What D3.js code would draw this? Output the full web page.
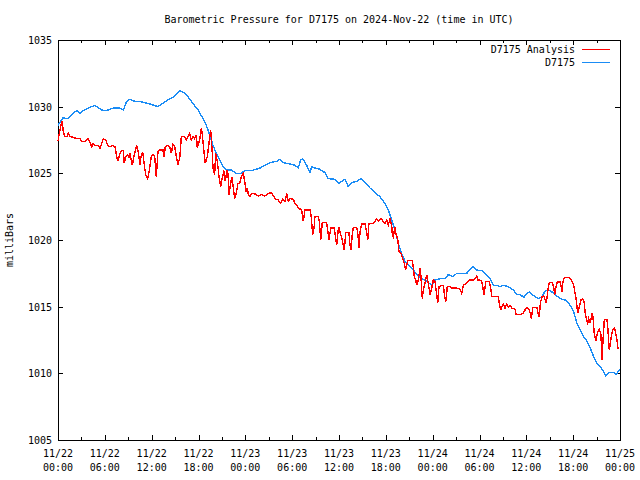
<!DOCTYPE html>
<html><head><meta charset="utf-8">
<script src="https://cdn.jsdelivr.net/npm/d3@7"></script>
<style>
body{margin:0;background:#fff;}
svg text{font-family:"DejaVu Sans Mono","Liberation Mono",monospace;font-size:10px;fill:#000;}
</style></head>
<body><svg id="c" width="640" height="480"></svg>
<script>
// ---- data (hours since 2024-11-22 00:00 UTC, millibars) ----
const title = "Barometric Pressure for D7175 on 2024-Nov-22 (time in UTC)";
const yLabel = "milliBars";
const seriesNames = ["D7175 Analysis", "D7175"];
const yTicks = [1005, 1010, 1015, 1020, 1025, 1030, 1035];

const stationHours = [0,0.64,1.32,1.96,2.40,2.82,3.24,3.88,4.74,5.16,5.80,6.44,7.08,7.94,8.37,8.80,9.22,9.86,10.29,11.15,11.79,12.81,13.45,14.09,14.73,15.59,16.01,16.65,17.29,17.94,18.58,19.00,19.43,19.86,20.28,20.72,21.14,21.56,22.20,22.84,23.48,23.92,24.81,25.88,26.52,27.16,28.02,28.35,28.86,29.72,30.36,30.78,31.09,31.35,31.86,32.28,32.50,32.92,33.56,34.21,34.63,35.49,36.04,36.35,36.77,37.19,37.63,38.27,38.82,39.33,39.97,40.61,41.25,41.89,42.32,42.75,43.17,43.60,44.03,44.45,45.10,45.52,45.95,46.59,47.23,47.88,48.30,48.94,49.58,50.00,50.64,51.08,52.36,52.78,53.13,53.64,54.28,54.70,55.34,55.77,56.20,56.63,57.05,57.69,58.33,58.76,59.19,59.70,60.05,60.38,60.72,61.15,61.58,62.01,62.43,62.86,63.29,63.71,64.35,64.99,65.63,66.07,66.49,66.91,67.35,67.77,68.19,68.63,69.05,69.47,69.91,70.20,70.55,71.19,71.49,72.00];
const stationValues = [1028.6,1029.15,1029.1,1029.5,1029.7,1029.5,1029.7,1029.9,1030.1,1029.9,1029.7,1029.75,1029.9,1029.9,1029.75,1030.4,1030.55,1030.4,1030.4,1030.3,1030.2,1030.0,1030.25,1030.5,1030.7,1031.2,1031.1,1030.75,1030.25,1029.75,1029.1,1028.6,1027.9,1027.1,1026.5,1026.0,1025.5,1025.25,1025.25,1025.0,1025.0,1025.2,1025.2,1025.4,1025.6,1025.8,1025.9,1026.05,1025.8,1025.7,1025.6,1025.4,1026.0,1026.1,1025.6,1025.05,1025.5,1025.4,1025.3,1025.05,1024.6,1024.55,1024.25,1024.4,1024.55,1024.0,1024.3,1024.4,1024.6,1024.3,1023.9,1023.55,1023.25,1022.75,1022.25,1021.5,1020.75,1019.75,1019.0,1018.4,1018.0,1017.75,1017.4,1017.1,1016.9,1016.6,1017.0,1017.1,1017.1,1017.4,1017.25,1017.5,1017.5,1017.75,1018.0,1017.75,1017.7,1017.5,1017.1,1016.6,1016.6,1016.5,1016.6,1016.5,1016.25,1015.9,1015.9,1015.7,1016.0,1016.1,1015.9,1015.75,1015.6,1015.75,1016.2,1016.25,1016.1,1015.9,1015.6,1015.5,1015.1,1014.6,1013.75,1013.25,1012.75,1012.4,1011.9,1011.25,1010.75,1010.5,1010.1,1009.8,1010.05,1010.05,1009.9,1010.3];

const analysisHours = [0,0.13,0.38,0.55,0.68,0.90,1.15,1.32,1.54,1.96,2.40,2.82,3.04,3.46,3.88,4.10,4.32,4.52,4.74,5.16,5.38,5.60,5.80,6.11,6.37,6.66,6.96,7.30,7.52,7.65,7.94,8.16,8.37,8.49,8.67,8.93,9.10,9.22,9.52,9.77,10.08,10.29,10.51,10.63,10.85,11.06,11.24,11.49,11.66,11.79,11.95,12.17,12.39,12.59,12.81,13.03,13.45,13.58,13.75,14.00,14.31,14.52,14.73,14.95,15.16,15.37,15.59,15.72,15.80,16.23,16.44,16.65,16.87,17.08,17.29,17.51,17.72,17.85,18.15,18.36,18.49,18.70,18.87,19.13,19.34,19.56,19.73,19.86,20.07,20.20,20.41,20.63,20.84,21.01,21.27,21.43,21.65,21.78,21.91,22.12,22.29,22.46,22.64,22.84,23.06,23.28,23.48,23.74,23.96,24.08,24.25,24.38,24.60,24.81,25.24,25.66,26.10,26.52,26.94,27.38,27.80,28.22,28.53,28.79,29.08,29.30,29.50,29.72,30.14,30.36,30.58,30.78,31.22,31.43,31.64,32.28,32.41,32.63,32.80,32.92,33.35,33.48,33.66,33.86,34.42,34.55,34.72,34.94,35.36,35.49,35.70,35.91,36.00,36.42,36.68,36.86,37.28,37.41,37.54,37.70,37.83,38.27,38.40,38.56,38.69,38.91,39.33,39.55,39.68,39.84,40.39,40.61,40.83,41.03,41.38,41.67,41.89,42.11,42.32,42.53,42.75,42.83,42.96,43.17,43.30,43.52,43.69,43.94,44.16,44.36,44.54,44.67,44.80,45.39,45.52,45.65,45.83,45.95,46.16,46.38,46.50,46.67,46.80,47.02,47.23,47.44,47.66,47.88,48.08,48.30,48.52,48.64,48.81,49.16,49.36,49.58,49.71,49.87,50.22,50.44,51.08,51.50,51.72,51.92,52.27,52.56,52.78,53.20,53.42,53.64,53.77,54.06,54.28,54.41,54.58,54.83,55.26,55.44,55.56,56.41,56.54,56.72,56.84,57.05,57.27,57.48,57.69,57.91,58.12,58.55,58.68,59.19,59.61,59.83,60.08,60.30,60.51,60.64,60.82,61.07,61.37,61.49,61.66,61.79,62.01,62.22,62.43,62.56,62.77,62.94,63.29,63.50,63.63,63.80,63.97,64.35,64.57,64.70,64.87,65.43,65.63,65.85,66.07,66.27,66.40,66.58,66.79,67.00,67.22,67.39,67.55,67.68,67.86,67.99,68.19,68.41,68.54,68.71,68.93,69.14,69.35,69.56,69.69,69.82,69.99,70.33,70.46,70.63,70.89,71.06,71.32,71.49,71.62,71.75];
const analysisValues = [1027.4,1027.9,1028.6,1028.9,1028.1,1027.75,1027.75,1028.0,1027.75,1027.7,1027.6,1027.6,1027.4,1027.4,1027.6,1027.3,1027.0,1027.25,1027.1,1027.1,1026.9,1027.25,1027.6,1027.5,1027.1,1027.0,1027.1,1027.0,1026.25,1025.9,1026.5,1026.7,1026.7,1025.75,1026.25,1026.4,1026.2,1026.5,1025.6,1026.4,1027.1,1026.6,1025.6,1026.25,1026.6,1025.6,1024.9,1024.6,1025.1,1025.6,1026.25,1026.4,1026.25,1024.75,1026.6,1026.75,1026.75,1026.25,1027.0,1027.1,1027.0,1026.5,1027.2,1027.0,1026.25,1025.7,1026.1,1027.1,1027.75,1027.75,1027.5,1027.75,1028.0,1027.5,1027.75,1027.6,1027.9,1026.9,1027.5,1028.4,1027.9,1026.6,1025.75,1026.25,1027.25,1028.25,1026.9,1025.4,1024.9,1026.5,1025.9,1024.75,1024.0,1024.6,1025.2,1024.4,1025.25,1025.0,1023.4,1024.25,1024.75,1023.9,1023.1,1023.5,1024.25,1024.25,1024.75,1025.0,1024.25,1023.6,1023.9,1023.4,1023.25,1023.5,1023.45,1023.3,1023.4,1023.3,1023.5,1023.55,1023.1,1023.0,1022.75,1023.05,1022.9,1023.5,1022.9,1023.1,1023.05,1022.75,1022.6,1022.4,1022.25,1021.4,1022.25,1022.25,1021.9,1020.4,1020.9,1021.75,1021.75,1021.4,1020.0,1021.3,1021.3,1020.75,1020.0,1020.9,1020.9,1020.5,1019.6,1020.8,1020.9,1020.0,1019.25,1020.55,1020.55,1019.6,1019.25,1020.4,1020.95,1020.95,1020.55,1019.4,1020.6,1021.2,1021.2,1020.6,1020.0,1021.25,1021.25,1021.4,1021.6,1021.4,1021.6,1021.4,1021.25,1021.5,1021.1,1021.6,1021.1,1020.4,1020.25,1021.0,1020.4,1020.1,1019.1,1019.0,1018.6,1018.25,1017.75,1018.1,1018.45,1018.45,1017.9,1017.25,1017.0,1016.6,1017.0,1017.9,1017.25,1015.6,1016.25,1016.75,1017.4,1016.75,1015.9,1016.4,1017.0,1016.9,1015.9,1015.25,1016.5,1016.6,1016.6,1015.6,1015.4,1016.5,1016.5,1016.4,1016.4,1016.3,1016.0,1016.6,1016.7,1016.9,1017.0,1017.0,1017.1,1017.3,1017.0,1017.0,1016.9,1016.5,1015.9,1016.9,1016.9,1016.4,1015.75,1015.75,1015.25,1014.75,1015.0,1015.2,1014.9,1015.2,1014.95,1015.1,1014.9,1014.8,1014.4,1014.4,1014.5,1014.75,1014.9,1014.85,1014.5,1014.1,1014.9,1014.95,1014.95,1014.5,1014.25,1015.25,1015.75,1015.8,1015.5,1015.25,1016.25,1016.8,1016.8,1016.5,1015.9,1016.5,1016.85,1016.85,1016.1,1016.9,1017.2,1017.2,1017.1,1016.9,1016.6,1015.9,1015.5,1014.5,1015.0,1015.5,1015.6,1015.4,1014.5,1014.1,1013.75,1014.1,1013.75,1014.5,1014.25,1012.9,1012.5,1013.1,1013.3,1012.9,1011.0,1012.4,1014.05,1014.05,1013.25,1011.75,1012.75,1013.3,1013.4,1012.9,1012.5,1011.8];

// ---- layout ----
const L = 58, R = 620, T = 40, B = 440;
const t0 = Date.UTC(2024, 10, 22, 0, 0);
const toDate = h => new Date(t0 + h * 3600000);

const svg = d3.select("#c");
const x = d3.scaleUtc().domain([toDate(0), toDate(72)]).range([L, R]);
const y = d3.scaleLinear().domain([1005, 1035]).range([B, T]);

const fmtD = d3.utcFormat("%m/%d"), fmtT = d3.utcFormat("%H:%M");
const majorX = d3.utcHour.every(6).range(toDate(0), toDate(72.01));
const minorX = d3.utcHour.every(3).range(toDate(0), toDate(72.01)).filter(d => d.getUTCHours() % 6 !== 0);

const g = svg.append("g").attr("shape-rendering", "crispEdges");
const tk = 5, tkm = 3;
majorX.forEach(d => {
  const px = Math.round(x(d)) + 0.5;
  g.append("line").attr("x1", px).attr("x2", px).attr("y1", B).attr("y2", B - tk).attr("stroke", "#000");
  g.append("line").attr("x1", px).attr("x2", px).attr("y1", T).attr("y2", T + tk).attr("stroke", "#000");
  const t = svg.append("text").attr("text-anchor", "middle").attr("x", x(d));
  t.append("tspan").attr("x", x(d)).attr("y", 457).text(fmtD(d));
  t.append("tspan").attr("x", x(d)).attr("y", 471).text(fmtT(d));
});
minorX.forEach(d => {
  const px = Math.round(x(d)) + 0.5;
  g.append("line").attr("x1", px).attr("x2", px).attr("y1", B).attr("y2", B - tkm).attr("stroke", "#000");
  g.append("line").attr("x1", px).attr("x2", px).attr("y1", T).attr("y2", T + tkm).attr("stroke", "#000");
});
yTicks.forEach(v => {
  const py = Math.round(y(v)) + 0.5;
  g.append("line").attr("x1", L).attr("x2", L + tk).attr("y1", py).attr("y2", py).attr("stroke", "#000");
  g.append("line").attr("x1", R).attr("x2", R - tk).attr("y1", py).attr("y2", py).attr("stroke", "#000");
  svg.append("text").attr("text-anchor", "end").attr("x", 52).attr("y", y(v) + 4).text(v);
});

// series (aliased lines, like the original renderer)
const line = d3.line().x(d => x(toDate(d[0]))).y(d => y(d[1]));
const stationData = stationHours.map((h, i) => [h, stationValues[i]]);
const analysisData = analysisHours.map((h, i) => [h, analysisValues[i]]);
const colors = ["#ff0000", "#1a8cf5"];
svg.append("path").datum(stationData).attr("d", line).attr("fill", "none")
  .attr("stroke", colors[1]).attr("stroke-width", 1.4).attr("shape-rendering", "crispEdges");
svg.append("path").datum(analysisData).attr("d", line).attr("fill", "none")
  .attr("stroke", colors[0]).attr("stroke-width", 1.4).attr("shape-rendering", "crispEdges");

g.append("rect").attr("x", L + 0.5).attr("y", T + 0.5).attr("width", R - L).attr("height", B - T)
  .attr("fill", "none").attr("stroke", "#000");

seriesNames.forEach((n, i) => {
  const ly = 49 + i * 13;
  svg.append("text").attr("text-anchor", "end").attr("x", 575).attr("y", ly + 4).text(n);
  g.append("line").attr("x1", 582).attr("x2", 610).attr("y1", ly + 0.5).attr("y2", ly + 0.5)
    .attr("stroke", colors[i]);
});

svg.append("text").attr("text-anchor", "middle").attr("x", (L + R) / 2).attr("y", 23).text(title);
svg.append("text").attr("text-anchor", "middle").attr("transform", "translate(13,240) rotate(-90)").text(yLabel);
</script></body></html>
